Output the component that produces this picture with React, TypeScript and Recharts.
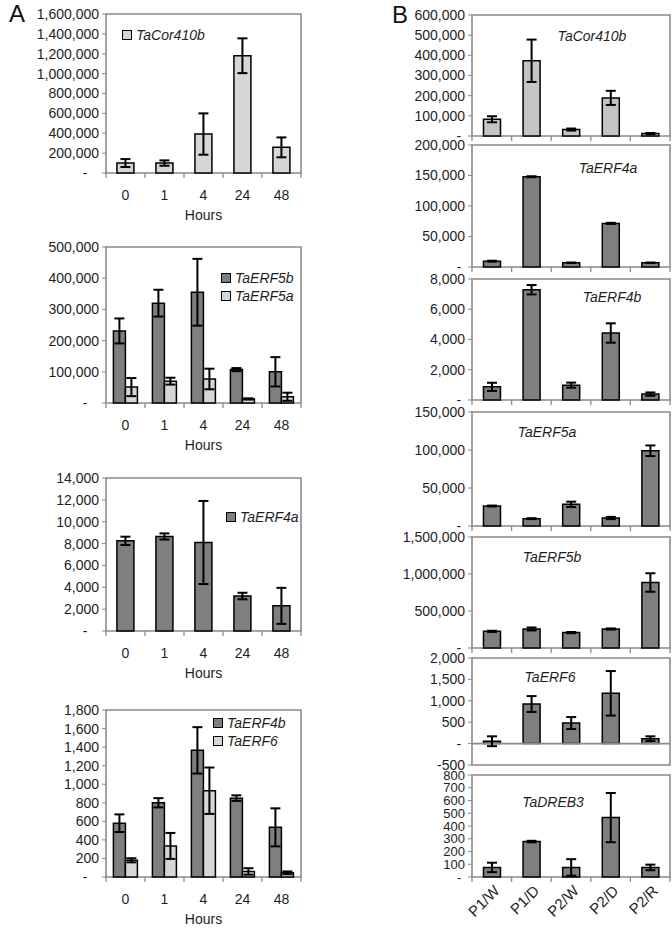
import React from 'react';
import { BarChart, Bar, XAxis, YAxis, ErrorBar, ReferenceArea, ReferenceLine, Legend } from 'recharts';

const FONT = '"Liberation Sans", Arial, Helvetica, sans-serif';
const AXIS = '#8a8a8a';
const TEXT = '#1e1e1e';
const LIGHT = '#d6d6d6';
const LIGHT_B = '#c4c4c4';
const DARK = '#7f7f7f';

// Categories
const hours = ['0', '1', '4', '24', '48'];
const groups = ['P1/W', 'P1/D', 'P2/W', 'P2/D', 'P2/R'];

// Panel A values and errors
const aCor410b = [100000, 100000, 392000, 1180000, 258000];
const aCor410bErr = [40000, 27000, 208000, 175000, 100000];
const aERF5b = [231000, 320000, 355000, 107000, 100000];
const aERF5bErr = [40000, 43000, 107000, 5000, 47000];
const aERF5a = [51000, 70000, 77000, 13000, 20000];
const aERF5aErr = [29000, 11000, 33000, 2000, 13000];
const aERF4a = [8250, 8650, 8100, 3200, 2300];
const aERF4aErr = [380, 280, 3800, 300, 1650];
const aERF4b = [580, 800, 1365, 850, 535];
const aERF4bErr = [95, 50, 250, 30, 205];
const aERF6 = [180, 335, 930, 60, 45];
const aERF6Err = [22, 140, 250, 35, 15];

// Panel B values and errors
const bCor410b = [83000, 373000, 32000, 189000, 12000];
const bCor410bErr = [15000, 105000, 5000, 35000, 3000];
const bERF4a = [9500, 148000, 7000, 71500, 7000];
const bERF4aErr = [800, 800, 300, 900, 300];
const bERF4b = [870, 7290, 980, 4430, 390];
const bERF4bErr = [270, 310, 170, 640, 110];
const bERF5a = [26300, 9700, 28500, 10500, 99000];
const bERF5aErr = [600, 600, 3500, 1500, 7000];
const bERF5b = [225000, 257000, 208000, 257000, 885000];
const bERF5bErr = [8000, 20000, 8000, 8000, 125000];
const bERF6 = [55, 925, 480, 1175, 115];
const bERF6Err = [115, 185, 140, 520, 55];
const bDREB3 = [75, 278, 75, 466, 75];
const bDREB3Err = [37, 6, 65, 193, 22];

// Tick labels
const aCorTicks = [0, 200000, 400000, 600000, 800000, 1000000, 1200000, 1400000, 1600000];
const aERF5Ticks = [0, 100000, 200000, 300000, 400000, 500000];
const aERF4aTicks = [0, 2000, 4000, 6000, 8000, 10000, 12000, 14000];
const aERF4bTicks = [0, 200, 400, 600, 800, 1000, 1200, 1400, 1600, 1800];
const bCorTicks = [0, 100000, 200000, 300000, 400000, 500000, 600000];
const bERF4aTicks = [0, 50000, 100000, 150000, 200000];
const bERF4bTicks = [0, 2000, 4000, 6000, 8000];
const bERF5aTicks = [0, 50000, 100000, 150000];
const bERF5bTicks = [0, 500000, 1000000, 1500000];
const bERF6Ticks = [-500, 0, 500, 1000, 1500, 2000];
const bDREB3Ticks = [0, 100, 200, 300, 400, 500, 600, 700, 800];

type Series = { name: string; values: number[]; errors: number[]; fill: string };

const fmtA = (v: number) => (v === 0 ? '-\u00a0\u00a0\u00a0' : v.toLocaleString('en-US'));
const fmtB = (v: number) => (v === 0 ? '-\u00a0' : v.toLocaleString('en-US'));

const CatTick = (props: any) => {
  const { x, y, payload, index, mode, margin, count } = props;
  const axisY = y - margin;
  const half = payload && typeof payload.offset === 'number' ? payload.offset : 0;
  const last = index === count - 1;
  return (
    <g>
      {mode !== 'none' && (
        <line x1={x - half} x2={x - half} y1={axisY} y2={axisY + 5} stroke={AXIS} strokeWidth={1.3} />
      )}
      {mode !== 'none' && last && (
        <line x1={x + half} x2={x + half} y1={axisY} y2={axisY + 5} stroke={AXIS} strokeWidth={1.3} />
      )}
      {mode === 'hours' && (
        <text x={x} y={axisY + 22} textAnchor="middle" dy="0.35em" fontSize={14} fontFamily={FONT} fill={TEXT}>
          {payload.value}
        </text>
      )}
      {mode === 'rot' && (
        <text
          x={x + 5}
          y={axisY + 11}
          textAnchor="end"
          dy="0.35em"
          fontSize={15}
          fontFamily={FONT}
          fill={TEXT}
          transform={`rotate(-45, ${x + 5}, ${axisY + 11})`}
        >
          {payload.value}
        </text>
      )}
    </g>
  );
};

const byKey = (a: any, b: any) => String(a.dataKey).localeCompare(String(b.dataKey));

const SwatchLegend = (props: any) => {
  const items = [...(props.payload || [])].sort(byKey);
  return (
    <div style={{ fontFamily: FONT, fontSize: 14, fontStyle: 'italic', color: TEXT, lineHeight: '18px', whiteSpace: 'nowrap' }}>
      {items.map((p: any, i: number) => (
        <div key={i} style={{ display: 'flex', alignItems: 'center' }}>
          <span
            style={{
              display: 'inline-block',
              width: 8,
              height: 8,
              background: p.color,
              border: '1.5px solid #000',
              marginRight: 4,
            }}
          />
          {p.value}
        </div>
      ))}
    </div>
  );
};

const NameLegend = (props: any) => {
  const items = props.payload || [];
  return (
    <div style={{ fontFamily: FONT, fontSize: 14, fontStyle: 'italic', color: TEXT, whiteSpace: 'nowrap', transform: 'translate(-50%, -50%)' }}>
      {items.length ? items[0].value : ''}
    </div>
  );
};

type PanelProps = {
  top: number;
  left: number;
  width: number;
  height: number;
  mTop: number;
  mRight: number;
  categories: string[];
  series: Series[];
  ticks: number[];
  fmt: (v: number) => string;
  xMode: 'hours' | 'rot' | 'ticks' | 'none';
  xHeight: number;
  gap: string;
  legend: 'swatch' | 'name';
  legendX: number;
  legendY: number;
  zeroLine?: boolean;
  yFont?: number;
};

const Panel = (p: PanelProps) => {
  const rows = p.categories.map((c, i) => {
    const r: any = { name: c };
    p.series.forEach((s, k) => {
      r['v' + k] = s.values[i];
      r['e' + k] = s.errors[i];
    });
    return r;
  });
  const lo = p.ticks[0];
  const hi = p.ticks[p.ticks.length - 1];
  const margin = 0;
  return (
    <div style={{ position: 'absolute', top: p.top, left: p.left, width: p.width, height: p.height }}>
      <BarChart
        width={p.width}
        height={p.height}
        data={rows}
        margin={{ top: p.mTop, right: p.mRight, bottom: 2, left: 0 }}
        barGap={0}
        barCategoryGap={p.gap}
      >
        <XAxis
          dataKey="name"
          type="category"
          interval={0}
          axisLine={false}
          tickLine={false}
          tickSize={0}
          tickMargin={margin}
          height={p.xHeight}
          tick={<CatTick mode={p.xMode} margin={margin} count={p.categories.length} />}
          label={
            p.xMode === 'hours'
              ? { value: 'Hours', position: 'insideBottom', offset: 1, fontSize: 14, fill: TEXT, fontFamily: FONT }
              : undefined
          }
        />
        <YAxis
          type="number"
          domain={[lo, hi]}
          ticks={p.ticks}
          interval={0}
          width={106}
          axisLine={false}
          tickLine={{ stroke: AXIS }}
          tickSize={4}
          tickMargin={3}
          tickFormatter={p.fmt}
          tick={{ fontSize: p.yFont || 14, fill: TEXT, fontFamily: FONT }}
        />
        <ReferenceArea y1={lo} y2={hi} fill="none" stroke={AXIS} strokeWidth={1.6} ifOverflow="visible" />
        {p.zeroLine && <ReferenceLine y={0} stroke={AXIS} strokeWidth={1.6} />}
        <Legend
          layout="vertical"
          align="center"
          verticalAlign="middle"
          content={p.legend === 'swatch' ? <SwatchLegend /> : <NameLegend />}
          wrapperStyle={{ left: p.legendX, top: p.legendY, width: 'auto', height: 'auto' }}
        />
        {p.series.map((s, k) => (
          <Bar key={k} dataKey={'v' + k} name={s.name} fill={s.fill} stroke="#000" strokeWidth={1.5} isAnimationActive={false}>
            <ErrorBar dataKey={'e' + k} width={5} stroke="#000" strokeWidth={2} direction="y" />
          </Bar>
        ))}
      </BarChart>
    </div>
  );
};

const A_W = 320;
const A_R = 19;
const B_L = 366;
const B_W = 306;
const B_R = 2;

export default function App() {
  return (
    <div style={{ position: 'absolute', left: 0, top: 0, width: 672, height: 928, background: '#fff', overflow: 'hidden' }}>
      <div style={{ position: 'absolute', left: 9, top: 2, fontFamily: FONT, fontSize: 24, lineHeight: '24px', color: '#111' }}>A</div>
      <div style={{ position: 'absolute', left: 392, top: 3, fontFamily: FONT, fontSize: 24, lineHeight: '24px', color: '#111' }}>B</div>

      <Panel top={0} left={0} width={A_W} height={223} mTop={14} mRight={A_R} categories={hours}
        series={[{ name: 'TaCor410b', values: aCor410b, errors: aCor410bErr, fill: LIGHT }]}
        ticks={aCorTicks} fmt={fmtA} xMode="hours" xHeight={48} gap="28%" legend="swatch" legendX={122} legendY={26} />
      <Panel top={233} left={0} width={A_W} height={220} mTop={14} mRight={A_R} categories={hours}
        series={[
          { name: 'TaERF5b', values: aERF5b, errors: aERF5bErr, fill: DARK },
          { name: 'TaERF5a', values: aERF5a, errors: aERF5aErr, fill: LIGHT },
        ]}
        ticks={aERF5Ticks} fmt={fmtA} xMode="hours" xHeight={48} gap="19%" legend="swatch" legendX={221} legendY={36} />
      <Panel top={464} left={0} width={A_W} height={217} mTop={14} mRight={A_R} categories={hours}
        series={[{ name: 'TaERF4a', values: aERF4a, errors: aERF4aErr, fill: DARK }]}
        ticks={aERF4aTicks} fmt={fmtA} xMode="hours" xHeight={48} gap="28%" legend="swatch" legendX={226} legendY={44} />
      <Panel top={696} left={0} width={A_W} height={231} mTop={14} mRight={A_R} categories={hours}
        series={[
          { name: 'TaERF4b', values: aERF4b, errors: aERF4bErr, fill: DARK },
          { name: 'TaERF6', values: aERF6, errors: aERF6Err, fill: LIGHT },
        ]}
        ticks={aERF4bTicks} fmt={fmtA} xMode="hours" xHeight={48} gap="19%" legend="swatch" legendX={213} legendY={18} />

      <Panel top={0} left={B_L} width={B_W} height={143} mTop={15} mRight={B_R} categories={groups}
        series={[{ name: 'TaCor410b', values: bCor410b, errors: bCor410bErr, fill: LIGHT_B }]}
        ticks={bCorTicks} fmt={fmtB} xMode="ticks" xHeight={5} gap="29%" legend="name" legendX={592 - B_L} legendY={36} />
      <Panel top={135} left={B_L} width={B_W} height={139} mTop={10} mRight={B_R} categories={groups}
        series={[{ name: 'TaERF4a', values: bERF4a, errors: bERF4aErr, fill: DARK }]}
        ticks={bERF4aTicks} fmt={fmtB} xMode="ticks" xHeight={5} gap="29%" legend="name" legendX={608 - B_L} legendY={168 - 135} />
      <Panel top={269} left={B_L} width={B_W} height={138} mTop={10} mRight={B_R} categories={groups}
        series={[{ name: 'TaERF4b', values: bERF4b, errors: bERF4bErr, fill: DARK }]}
        ticks={bERF4bTicks} fmt={fmtB} xMode="ticks" xHeight={5} gap="29%" legend="name" legendX={612 - B_L} legendY={297 - 269} />
      <Panel top={402} left={B_L} width={B_W} height={131} mTop={10} mRight={B_R} categories={groups}
        series={[{ name: 'TaERF5a', values: bERF5a, errors: bERF5aErr, fill: DARK }]}
        ticks={bERF5aTicks} fmt={fmtB} xMode="ticks" xHeight={5} gap="29%" legend="name" legendX={547 - B_L} legendY={432 - 402} />
      <Panel top={527} left={B_L} width={B_W} height={128} mTop={10} mRight={B_R} categories={groups}
        series={[{ name: 'TaERF5b', values: bERF5b, errors: bERF5bErr, fill: DARK }]}
        ticks={bERF5bTicks} fmt={fmtB} xMode="ticks" xHeight={5} gap="29%" legend="name" legendX={552 - B_L} legendY={557 - 527} />
      <Panel top={648} left={B_L} width={B_W} height={124} mTop={10} mRight={B_R} categories={groups}
        series={[{ name: 'TaERF6', values: bERF6, errors: bERF6Err, fill: DARK }]}
        ticks={bERF6Ticks} fmt={fmtB} xMode="none" xHeight={5} gap="29%" legend="name" legendX={550 - B_L} legendY={677 - 648} zeroLine />
      <Panel top={765} left={B_L} width={B_W} height={163} mTop={10} mRight={B_R} categories={groups}
        series={[{ name: 'TaDREB3', values: bDREB3, errors: bDREB3Err, fill: DARK }]}
        ticks={bDREB3Ticks} fmt={fmtB} xMode="rot" xHeight={49} gap="29%" legend="name" legendX={553 - B_L} legendY={802 - 765} yFont={13} />
    </div>
  );
}
